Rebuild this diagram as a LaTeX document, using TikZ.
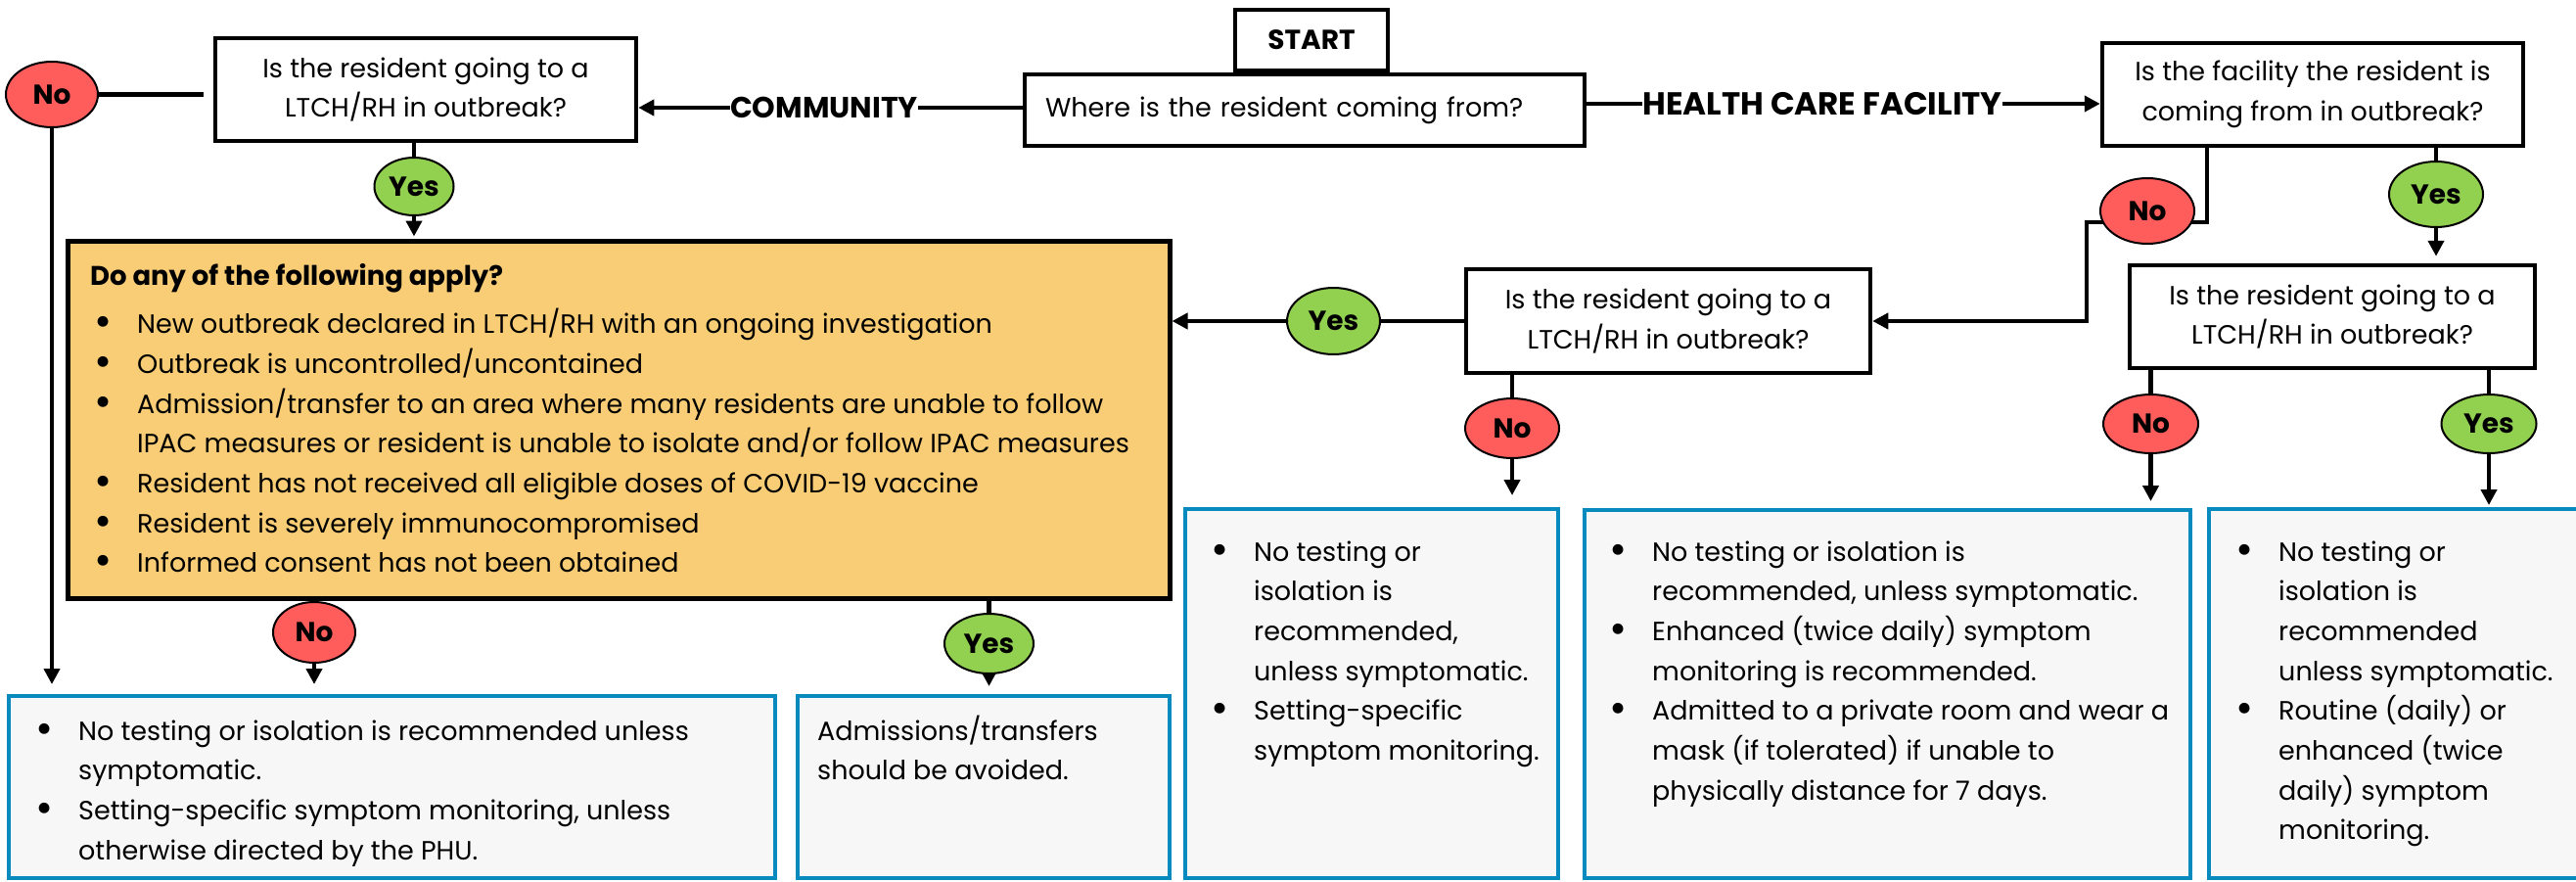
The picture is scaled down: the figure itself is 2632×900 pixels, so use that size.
\documentclass[tikz,border=0pt]{standalone}
\usepackage{fontspec}
\setmainfont{Poppins}
\usetikzlibrary{arrows.meta,shapes.geometric,calc,backgrounds}
\definecolor{rd}{HTML}{FF5C5C}
\definecolor{gr}{HTML}{92D050}
\definecolor{yl}{HTML}{F9CD76}
\definecolor{bl}{HTML}{078BBF}
\definecolor{gbg}{HTML}{F7F7F7}
\newcommand\bodyfont{\fontsize{27}{40.7}\selectfont}
\newcommand\lblfont{\fontsize{28}{30}\selectfont\bfseries}
\newcommand\bul{\makebox[44pt][l]{\raisebox{-3pt}{\fontsize{44}{44}\selectfont\textbullet}}}
\newcommand\ind{\hspace*{44pt}}
\tikzset{
  qbox/.style={draw, line width=4.5pt, fill=white, inner sep=0pt, align=center, font=\bodyfont},
  yn/.style={ellipse, draw, line width=2pt, inner sep=0pt, font=\lblfont},
  nob/.style={yn, fill=rd},
  yesb/.style={yn, fill=gr},
  cbox/.style={draw=bl, line width=4pt, fill=gbg, inner sep=0pt},
  txt/.style={inner sep=0pt, align=left, font=\bodyfont},
  con/.style={line width=4.5pt},
  arr/.style={con, -{Triangle[width=16pt,length=16pt]}},
  hdr/.style={inner sep=0pt, font=\fontsize{30}{32}\selectfont\bfseries}
}
\begin{document}
\begin{tikzpicture}[x=1pt,y=-1pt]
\useasboundingbox (0,0) rectangle (2632,900);
% question boxes
\node[qbox, minimum width=156pt, minimum height=62pt, font=\lblfont] (start) at (1340,41) {START};
\node[qbox, minimum width=572pt, minimum height=73pt, text width=530pt, inner xsep=21pt, align=left] (where) at (1333,112.5) {Where is the resident coming from?};
\node[qbox, minimum width=430pt, minimum height=105pt] (q1) at (435,91.5) {Is the resident going to a\\LTCH/RH in outbreak?};
\node[qbox, minimum width=430pt, minimum height=105pt] (q2) at (2363,96.5) {Is the facility the resident is\\coming from in outbreak?};
\node[qbox, minimum width=413pt, minimum height=106pt] (q3) at (1704.5,328) {Is the resident going to a\\LTCH/RH in outbreak?};
\node[qbox, minimum width=414pt, minimum height=105pt] (q4) at (2383,323.5) {Is the resident going to a\\LTCH/RH in outbreak?};
\node[hdr] (comm) at (842,110) {COMMUNITY};
\node[hdr, font=\fontsize{32.5}{34}\selectfont\bfseries] (hcf) at (1862,106) {HEALTH CARE FACILITY};
% yellow box
\node[draw, line width=5pt, fill=yl, minimum width=1126pt, minimum height=365pt, inner sep=0pt] (yellow) at (632,428.5) {};
% content boxes
\node[cbox, minimum width=783pt, minimum height=186pt] (b1) at (400.5,804) {};
\node[cbox, minimum width=380pt, minimum height=186pt] (b2) at (1005,804) {};
\node[cbox, minimum width=381pt, minimum height=377pt] (r1) at (1401.5,708.5) {};
\node[cbox, minimum width=619pt, minimum height=376pt] (r2) at (1928.5,709) {};
\node[cbox, minimum width=400pt, minimum height=377pt] (r3) at (2457,708.5) {};
% ellipses
\node[nob, minimum width=94pt, minimum height=67pt] (noA) at (53,96.5) {No};
\node[yesb, minimum width=81pt, minimum height=59pt] (yesA) at (423,190.5) {Yes};
\node[nob, minimum width=96pt, minimum height=67pt] (noB) at (2194,215.5) {No};
\node[yesb, minimum width=96pt, minimum height=67pt] (yesB) at (2489,198.5) {Yes};
\node[yesb, minimum width=95pt, minimum height=68pt] (yesC) at (1362.5,328) {Yes};
\node[nob, minimum width=96pt, minimum height=61pt] (noC) at (1545,437.5) {No};
\node[nob, minimum width=97pt, minimum height=60pt] (noD) at (2197.5,433) {No};
\node[yesb, minimum width=97pt, minimum height=60pt] (yesD) at (2543,433) {Yes};
\node[nob, minimum width=84pt, minimum height=62pt] (noE) at (321,646) {No};
\node[yesb, minimum width=91pt, minimum height=61pt] (yesE) at (1010.5,657.5) {Yes};
% texts (anchored at baseline of last line)
\node[txt, anchor=base west] (ty) at (92,584.9) {{\fontsize{27.5}{30}\selectfont\bfseries Do any of the following apply?}\\[9pt]
\hspace*{4pt}\bul New outbreak declared in LTCH/RH with an ongoing investigation\\
\hspace*{4pt}\bul Outbreak is uncontrolled/uncontained\\
\hspace*{4pt}\bul Admission/transfer to an area where many residents are unable to follow\\
\hspace*{4pt}\ind IPAC measures or resident is unable to isolate and/or follow IPAC measures\\
\hspace*{4pt}\bul Resident has not received all eligible doses of COVID-19 vaccine\\
\hspace*{4pt}\bul Resident is severely immunocompromised\\
\hspace*{4pt}\bul Informed consent has not been obtained};
\node[txt, anchor=base west] (tb1) at (36,878.1) {\bul No testing or isolation is recommended unless\\
\ind symptomatic.\\
\bul Setting-specific symptom monitoring, unless\\
\ind otherwise directed by the PHU.};
\node[txt, anchor=base west] (tb2) at (835,796.7) {Admissions/transfers\\should be avoided.};
\node[txt, anchor=base west] (tr1) at (1237,776.5) {\bul No testing or\\
\ind isolation is\\
\ind recommended,\\
\ind unless symptomatic.\\
\bul Setting-specific\\
\ind symptom monitoring.};
\node[txt, anchor=base west] (tr2) at (1644,817.2) {\bul No testing or isolation is\\
\ind recommended, unless symptomatic.\\
\bul Enhanced (twice daily) symptom\\
\ind monitoring is recommended.\\
\bul Admitted to a private room and wear a\\
\ind mask (if tolerated) if unable to\\
\ind physically distance for 7 days.};
\node[txt, anchor=base west] (tr3) at (2284,857.9) {\bul No testing or\\
\ind isolation is\\
\ind recommended\\
\ind unless symptomatic.\\
\bul Routine (daily) or\\
\ind enhanced (twice\\
\ind daily) symptom\\
\ind monitoring.};
% connectors
\coordinate (kB1) at (2255,227);
\coordinate (kB2) at (2132,227);
\begin{scope}[on background layer]
\fill[white] (0,0) rectangle (2632,900);
\draw[con] (comm.east) -- (comm.east -| where.west);
\draw[arr] (comm.west) -- (comm.west -| q1.east);
\draw[con] (hcf.west -| where.east) -- (hcf.west);
\draw[arr] (hcf.east) -- (hcf.east -| q2.west);
\draw[con, shorten >=10pt] (noA.center) -- (noA.center -| q1.west);
\draw[arr, shorten >=10pt] (noA.center) -- (noA.center |- b1.north);
\draw[con] (yesA.center) -- (yesA.center |- q1.south);
\draw[arr, shorten >=2pt] (yesA.center) -- (yesA.center |- yellow.north);
\draw[arr] (kB1 |- q2.south) -- (kB1) -- (kB2) |- (q3.east);
\draw[con] (yesB.center) -- (yesB.center |- q2.south);
\draw[arr, shorten >=7pt] (yesB.center) -- (yesB.center |- q4.north);
\draw[con] (yesC.center) -- (q3.west);
\draw[arr] (yesC.center) -- (yesC.center -| yellow.east);
\draw[con] (noC.center) -- (noC.center |- q3.south);
\draw[arr, shorten >=12pt] (noC.center) -- (noC.center |- r1.north);
\draw[con] (noD.center) -- (noD.center |- q4.south);
\draw[arr, shorten >=7pt] (noD.center) -- (noD.center |- r2.north);
\draw[con] (yesD.center) -- (yesD.center |- q4.south);
\draw[arr, shorten >=2pt] (yesD.center) -- (yesD.center |- r3.north);
\draw[con] (noE.center) -- (noE.center |- yellow.south);
\draw[arr, shorten >=10pt] (noE.center) -- (noE.center |- b1.north);
\draw[con] (yesE.center) -- (yesE.center |- yellow.south);
\draw[arr, shorten >=8pt] (yesE.center) -- (yesE.center |- b2.north);
\end{scope}
\end{tikzpicture}
\end{document}
